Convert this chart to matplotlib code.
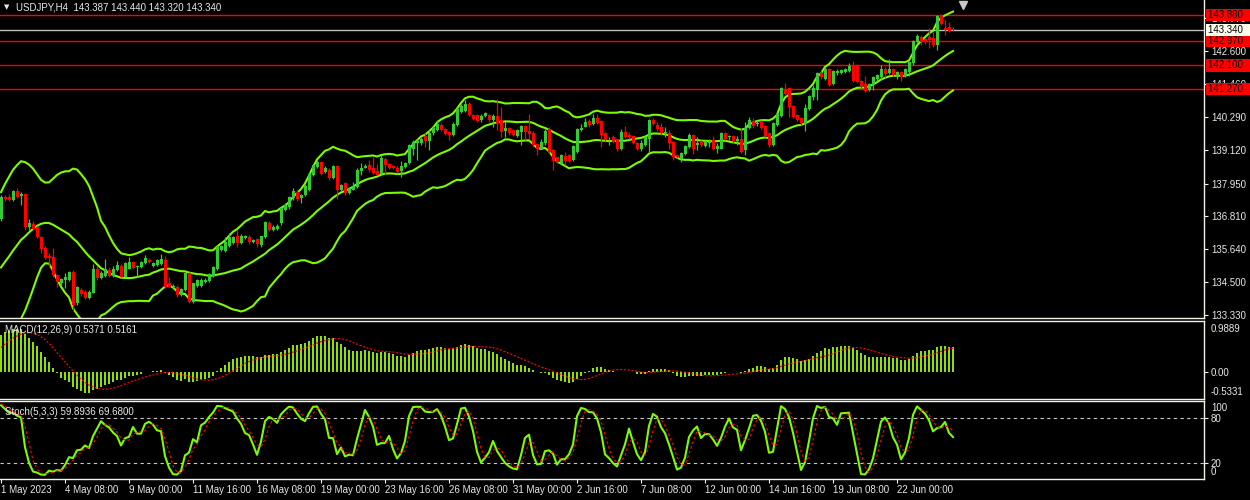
import numpy as np
import pandas as pd
import matplotlib
matplotlib.use('Agg')
import matplotlib.pyplot as plt
from matplotlib.transforms import blended_transform_factory

plt.rcParams['font.family'] = ['Liberation Sans', 'DejaVu Sans']

# USDJPY H4 bars (bar 0 = 1 May 16:00)
opens = [
    136.70, 137.49, 137.49, 137.37, 137.70, 137.52, 137.58, 136.41, 136.52, 136.41,
    136.08, 135.70, 135.42, 135.38, 134.74, 134.47, 134.56, 134.56, 134.85, 133.74,
    134.21, 134.15, 133.92, 134.12, 134.95, 134.62, 134.70, 134.91, 134.71, 134.91,
    135.05, 134.68, 134.96, 135.18, 135.01, 135.01, 135.15, 135.26, 135.05, 135.09,
    135.12, 135.26, 134.44, 134.33, 134.33, 134.03, 134.21, 134.82, 133.80, 134.35,
    134.36, 134.50, 134.54, 134.70, 134.95, 135.61, 135.59, 135.75, 135.85, 136.11,
    135.87, 136.04, 136.08, 135.91, 135.99, 135.79, 136.08, 136.57, 136.32, 136.37,
    136.55, 137.02, 137.11, 137.43, 137.66, 137.43, 137.54, 137.72, 138.25, 138.54,
    138.71, 138.36, 138.44, 138.13, 138.56, 137.74, 137.98, 137.63, 137.74, 137.84,
    138.39, 138.51, 138.60, 138.51, 138.40, 138.30, 138.83, 138.63, 138.56, 138.51,
    138.40, 138.54, 138.66, 139.18, 139.36, 139.36, 139.61, 139.45, 139.71, 139.83,
    140.02, 139.86, 139.77, 139.65, 140.02, 140.45, 140.50, 140.76, 140.37, 140.35,
    140.18, 140.32, 140.35, 140.18, 140.32, 140.18, 139.79, 139.91, 139.83, 139.61,
    139.77, 139.98, 139.80, 139.74, 139.33, 139.18, 139.36, 139.85, 139.12, 138.87,
    138.68, 138.91, 138.95, 138.77, 139.06, 139.83, 139.94, 140.15, 140.04, 140.27,
    140.15, 139.71, 139.50, 139.59, 139.50, 139.18, 139.77, 139.65, 139.61, 139.38,
    139.18, 139.30, 139.53, 140.18, 140.02, 139.94, 139.71, 139.71, 139.42, 138.95,
    138.80, 138.98, 139.24, 139.65, 139.30, 139.44, 139.26, 139.38, 139.47, 139.18,
    139.18, 139.71, 139.57, 139.61, 139.45, 139.50, 139.13, 139.89, 140.15, 140.04,
    140.12, 139.97, 139.71, 139.30, 140.00, 140.32, 141.23, 141.29, 140.67, 140.35,
    140.24, 140.06, 140.56, 141.00, 141.23, 141.84, 141.62, 141.96, 141.44, 141.84,
    141.84, 141.87, 141.90, 142.07, 142.11, 141.56, 141.44, 141.23, 141.41, 141.61,
    141.68, 141.99, 141.84, 141.96, 141.72, 141.87, 141.72, 141.87, 142.17, 142.93,
    143.10, 143.04, 143.10, 143.08, 142.81, 143.86, 143.43, 143.45, 143.387,
]
highs = [
    137.55, 137.55, 137.58, 137.74, 137.78, 137.65, 137.62, 136.69, 136.62, 136.45,
    136.10, 135.75, 135.50, 135.70, 134.78, 134.62, 134.82, 134.88, 134.90, 134.36,
    134.27, 134.20, 134.20, 135.11, 135.06, 134.88, 135.30, 135.03, 135.05, 135.23,
    135.12, 135.20, 135.36, 135.23, 135.08, 135.23, 135.45, 135.32, 135.20, 135.30,
    135.46, 135.40, 134.68, 134.42, 134.38, 134.27, 134.85, 134.85, 134.47, 134.60,
    134.62, 134.62, 134.80, 135.05, 135.78, 135.80, 136.08, 136.22, 136.12, 136.32,
    136.16, 136.15, 136.14, 136.00, 136.02, 136.12, 136.65, 136.62, 136.50, 136.52,
    137.12, 137.25, 137.52, 137.80, 137.72, 137.60, 137.92, 138.36, 138.65, 138.78,
    138.75, 138.55, 138.50, 138.60, 138.60, 137.95, 138.02, 137.82, 138.02, 138.48,
    138.66, 138.62, 138.77, 138.89, 138.65, 138.95, 138.87, 138.68, 138.60, 138.55,
    138.74, 138.72, 139.35, 139.47, 139.53, 139.58, 139.71, 139.82, 139.96, 140.20,
    140.08, 139.90, 139.80, 140.10, 140.60, 140.73, 140.88, 140.80, 140.40, 140.38,
    140.38, 140.48, 140.40, 140.41, 140.91, 140.64, 140.12, 139.95, 139.86, 139.86,
    140.00, 140.02, 140.39, 139.78, 139.36, 139.53, 139.85, 139.94, 139.15, 138.90,
    138.98, 139.06, 138.98, 139.30, 139.90, 140.06, 140.27, 140.23, 140.41, 140.41,
    140.18, 139.77, 139.57, 139.65, 139.53, 139.88, 139.97, 139.77, 139.65, 139.41,
    139.47, 139.61, 140.22, 140.26, 140.12, 140.08, 139.94, 139.83, 139.45, 138.98,
    139.06, 139.31, 139.71, 139.68, 139.59, 139.47, 139.47, 139.53, 139.61, 139.36,
    139.77, 139.77, 139.65, 139.65, 139.61, 139.89, 140.12, 140.30, 140.24, 140.18,
    140.18, 140.00, 139.77, 140.12, 140.43, 141.33, 141.47, 141.32, 140.72, 140.39,
    140.28, 140.76, 141.06, 141.41, 141.88, 141.90, 142.03, 142.00, 141.95, 141.99,
    141.97, 142.00, 142.20, 142.25, 142.15, 141.60, 141.72, 141.48, 141.72, 141.80,
    142.11, 142.05, 142.34, 142.00, 141.91, 141.91, 142.00, 142.27, 142.99, 143.22,
    143.16, 143.08, 143.43, 143.28, 143.87, 143.90, 143.69, 143.63, 143.440,
]
lows = [
    136.65, 137.35, 137.33, 137.35, 137.45, 137.19, 136.32, 136.32, 136.30, 136.02,
    135.50, 135.30, 135.03, 134.68, 134.33, 134.40, 134.27, 134.52, 133.48, 133.68,
    134.00, 133.88, 133.88, 134.10, 134.56, 134.58, 134.68, 134.66, 134.68, 134.88,
    134.66, 134.65, 134.93, 134.95, 134.68, 134.98, 135.12, 135.15, 135.00, 135.05,
    135.08, 134.28, 134.30, 134.28, 133.98, 134.00, 134.18, 133.74, 133.76, 134.30,
    134.32, 134.45, 134.50, 134.66, 134.92, 135.58, 135.55, 135.72, 135.82, 135.71,
    135.84, 136.00, 135.84, 135.85, 135.73, 135.73, 136.05, 136.28, 136.28, 136.30,
    136.50, 136.98, 137.05, 137.38, 137.35, 137.28, 137.50, 137.68, 138.20, 138.50,
    138.25, 138.32, 138.08, 138.10, 137.39, 137.70, 137.55, 137.58, 137.72, 137.80,
    138.25, 138.48, 138.36, 138.30, 138.25, 138.28, 138.30, 138.45, 138.45, 138.32,
    138.19, 138.50, 138.62, 138.95, 138.77, 139.32, 139.24, 139.12, 139.66, 139.80,
    139.78, 139.65, 139.47, 139.62, 139.98, 140.42, 140.46, 140.33, 140.18, 140.10,
    140.13, 140.28, 140.10, 139.94, 139.83, 139.59, 139.59, 139.66, 139.62, 139.58,
    139.30, 139.47, 139.53, 139.24, 138.95, 139.15, 139.32, 139.03, 138.42, 138.68,
    138.65, 138.60, 138.72, 138.74, 139.03, 139.80, 139.92, 139.94, 140.00, 140.06,
    139.24, 139.42, 139.30, 139.36, 139.09, 139.12, 139.56, 139.53, 139.33, 139.12,
    139.09, 139.27, 139.06, 140.00, 139.80, 139.65, 139.59, 139.18, 138.77, 138.84,
    138.71, 138.95, 139.20, 138.98, 139.12, 139.24, 139.22, 139.24, 139.12, 139.03,
    139.15, 139.47, 139.47, 139.36, 139.30, 139.01, 138.95, 139.85, 139.89, 139.97,
    139.85, 139.59, 139.24, 139.26, 139.97, 140.28, 141.06, 140.30, 140.26, 140.15,
    140.00, 139.80, 140.52, 140.88, 140.88, 141.62, 141.58, 141.37, 141.40, 141.76,
    141.80, 141.83, 141.86, 141.52, 141.48, 141.32, 141.17, 141.19, 141.23, 141.57,
    141.64, 141.70, 141.80, 141.72, 141.64, 141.56, 141.68, 141.72, 142.11, 142.89,
    142.81, 142.87, 142.73, 142.75, 142.66, 143.51, 143.16, 143.28, 143.320,
]
closes = [
    137.49, 137.39, 137.37, 137.70, 137.49, 137.57, 136.41, 136.57, 136.34, 136.06,
    135.66, 135.32, 135.35, 134.74, 134.50, 134.58, 134.65, 134.83, 133.68, 134.30,
    134.07, 133.92, 134.15, 134.95, 134.62, 134.82, 134.94, 134.70, 134.94, 135.09,
    134.68, 135.15, 135.19, 134.97, 135.05, 135.19, 135.32, 135.19, 135.17, 135.26,
    135.29, 134.33, 134.33, 134.36, 134.03, 134.23, 134.82, 133.80, 134.44, 134.56,
    134.56, 134.56, 134.77, 135.00, 135.73, 135.75, 135.88, 136.06, 136.08, 135.87,
    136.12, 136.11, 135.88, 135.96, 135.82, 136.10, 136.61, 136.32, 136.43, 136.47,
    137.08, 137.19, 137.46, 137.70, 137.40, 137.54, 137.86, 138.30, 138.60, 138.71,
    138.30, 138.48, 138.13, 138.56, 137.74, 137.89, 137.63, 137.78, 137.86, 138.44,
    138.51, 138.56, 138.42, 138.33, 138.25, 138.85, 138.60, 138.48, 138.48, 138.36,
    138.56, 138.68, 139.30, 139.42, 139.44, 139.53, 139.45, 139.74, 139.91, 140.06,
    139.83, 139.69, 139.65, 140.06, 140.56, 140.68, 140.73, 140.37, 140.21, 140.15,
    140.33, 140.43, 140.18, 140.33, 140.08, 139.77, 139.91, 139.71, 139.65, 139.83,
    139.97, 139.77, 139.68, 139.30, 139.18, 139.42, 139.80, 139.06, 138.74, 138.71,
    138.95, 138.75, 138.75, 139.26, 139.86, 139.91, 140.12, 140.02, 140.26, 140.09,
    139.65, 139.47, 139.53, 139.42, 139.15, 139.77, 139.59, 139.59, 139.36, 139.18,
    139.38, 139.57, 140.18, 140.06, 139.85, 139.71, 139.77, 139.38, 138.89, 138.87,
    139.03, 139.28, 139.65, 139.18, 139.36, 139.30, 139.44, 139.45, 139.18, 139.26,
    139.71, 139.53, 139.61, 139.45, 139.50, 139.07, 139.89, 140.20, 139.97, 140.08,
    139.89, 139.62, 139.30, 140.08, 140.39, 141.29, 141.11, 140.65, 140.30, 140.20,
    140.08, 140.59, 141.02, 141.29, 141.84, 141.68, 141.99, 141.41, 141.91, 141.91,
    141.93, 141.96, 142.07, 141.56, 141.52, 141.37, 141.21, 141.44, 141.68, 141.76,
    141.99, 141.79, 141.96, 141.76, 141.87, 141.70, 141.96, 142.23, 142.95, 143.13,
    142.93, 142.93, 143.01, 142.81, 143.83, 143.55, 143.36, 143.31, 143.340,
]
# closes before the first visible bar (21 Apr - 1 May 12:00), only used to warm up the indicators
lead_closes = [
    134.20, 134.05, 133.90, 134.10, 134.15, 134.10,
    134.15, 134.30, 134.40, 134.35, 134.25, 134.20,
    134.10, 133.90, 133.70, 133.40, 133.60, 133.70,
    133.75, 133.65, 133.50, 133.40, 133.65, 133.60,
    133.70, 133.80, 133.95, 133.75, 133.85, 133.95,
    134.20, 134.70, 135.40, 135.95, 136.20, 136.30,
    136.35, 136.45, 136.60, 136.70,
]

tick_bars = [0, 16, 32, 48, 64, 80, 96, 112, 128, 144, 160, 176, 192, 208, 224]
tick_labels = ['1 May 2023', '4 May 08:00', '9 May 00:00', '11 May 16:00', '16 May 08:00',
               '19 May 00:00', '23 May 16:00', '26 May 08:00', '31 May 00:00', '2 Jun 16:00',
               '7 Jun 08:00', '12 Jun 00:00', '14 Jun 16:00', '19 Jun 08:00', '22 Jun 00:00']
price_ticks = [133.330, 134.500, 135.640, 136.810, 137.950, 139.120, 140.290, 141.460, 142.600, 143.770]
levels = [143.880, 142.970, 142.100, 141.270]
bid = 143.340
macd_max, macd_min = 0.9889, -0.5331
stoch_levels = [80, 20]

# indicators (MT4 style)
n_lead = len(lead_closes)
c_all = pd.Series(lead_closes + closes)
h_all = pd.Series(lead_closes + highs)
l_all = pd.Series(lead_closes + lows)

mid = c_all.rolling(20).mean()
sd = c_all.rolling(20).std(ddof=0)
bb_up = (mid + 2 * sd).values[n_lead:]
bb_dn = (mid - 2 * sd).values[n_lead:]
bb_mid = mid.values[n_lead:]

macd = (c_all.ewm(span=12, adjust=False).mean() - c_all.ewm(span=26, adjust=False).mean())
macd_sig = macd.rolling(9).mean().values[n_lead:]
macd = macd.values[n_lead:]

ll = l_all.rolling(5).min()
hh = h_all.rolling(5).max()
st_k = 100 * (c_all - ll).rolling(3).sum() / (hh - ll).rolling(3).sum()
st_d = st_k.rolling(3).mean().values[n_lead:]
st_k = st_k.values[n_lead:]

o = np.array(opens); h = np.array(highs); l = np.array(lows); c = np.array(closes)
x = np.arange(len(c))
bull = c >= o

BG = 'black'
FG = '#f2f2e6'
TXT = '#e8e8e8'
BAND = '#7cfc00'
UP = '#32cd32'
DN = '#ff0000'

W, H = 1250, 500
fig = plt.figure(figsize=(12.5, 5), dpi=100, facecolor=BG)


def px_axes(x0, y0, x1, y1):
    a = fig.add_axes([x0 / W, 1 - y1 / H, (x1 - x0) / W, (y1 - y0) / H])
    a.set_facecolor(BG)
    a.set_xlim(-0.25, 300.75)
    a.spines['left'].set_visible(False)
    for s in ['right', 'top', 'bottom']:
        a.spines[s].set_color(FG)
        a.spines[s].set_linewidth(1.0)
    a.yaxis.tick_right()
    a.tick_params(axis='y', colors=FG, labelcolor=TXT, labelsize=7, length=3, width=0.8, pad=2)
    a.tick_params(axis='x', colors=FG, labelcolor=TXT, labelsize=7, length=3, width=0.8, pad=1)
    return a


def side_label(a, value, text, dy):
    # right-hand scale label of an indicator window, kept inside the window like MT4 does
    a.annotate(text, xy=(1.0, value), xycoords=blended_transform_factory(a.transAxes, a.transData),
               xytext=(5, dy), textcoords='offset points', ha='left', va='center',
               fontsize=7, color=TXT, annotation_clip=False)


ax = px_axes(0, 0, 1204, 318)
ax_m = px_axes(0, 321, 1204, 399)
ax_s = px_axes(0, 401, 1204, 479)
ax.spines['top'].set_visible(False)

# ---- main price panel
ax.set_ylim(133.225, 144.40)
ax.set_yticks(price_ticks)
ax.set_yticklabels([f'{v:.3f}' for v in price_ticks])
ax.set_xticks([])

ax.plot(x, bb_up, color=BAND, lw=1.5, zorder=2)
ax.plot(x, bb_mid, color=BAND, lw=1.5, zorder=2)
ax.plot(x, bb_dn, color=BAND, lw=1.5, zorder=2)

cols = np.where(bull, UP, DN)
ax.vlines(x, l, h, colors=cols, lw=0.9, zorder=3)
body = np.maximum(np.abs(c - o), 0.012)
ax.bar(x, body, bottom=np.minimum(o, c), width=0.75, color=cols, linewidth=0, zorder=3)

for lv in levels:
    ax.axhline(lv, color='#ff0000', lw=1.0, zorder=1)
ax.axhline(bid, color='#c0c0c0', lw=1.0, zorder=1)

tr = blended_transform_factory(ax.transAxes, ax.transData)
for lv in levels:
    ax.text(1.003, lv, f'{lv:.3f}   ', transform=tr, ha='left', va='center', fontsize=7,
            color='black', bbox=dict(boxstyle='square,pad=0.12', fc='#ff0000', ec='none'), zorder=5)
ax.text(1.003, bid, f'{bid:.3f}   ', transform=tr, ha='left', va='center', fontsize=7,
        color='black', bbox=dict(boxstyle='square,pad=0.12', fc='#fbfbec', ec='none'), zorder=5)

# chart shift marker
ax.plot([len(c) + 1.5], [0.985], marker='v', color='#c8c8c8', markersize=6,
        transform=blended_transform_factory(ax.transData, ax.transAxes), clip_on=False, zorder=6)

fig.text(4 / W, 1 - 7 / H, '\u25BC', color=TXT, fontsize=5, va='center', ha='left',
         family='DejaVu Sans')
fig.text(16 / W, 1 - 7 / H,
         f'USDJPY,H4  {opens[-1]:.3f} {highs[-1]:.3f} {lows[-1]:.3f} {closes[-1]:.3f}',
         color=TXT, fontsize=7, va='center', ha='left')

# ---- MACD panel
ax_m.set_ylim(-0.581, 1.097)
ax_m.bar(x, macd, width=0.5, color='#8ee000', linewidth=0, zorder=2)
ax_m.plot(x, macd_sig, color='#ff0000', lw=0.9, ls=(0, (1.5, 1.5)), zorder=3)
ax_m.set_yticks([0.0])
ax_m.set_yticklabels(['0.00'])
side_label(ax_m, macd_max, f'{macd_max:.4f}', -2)
side_label(ax_m, macd_min, f'{macd_min:.4f}', 3.5)
ax_m.set_xticks([])
ax_m.text(0.004, 0.88, 'MACD(12,26,9) 0.5371 0.5161', transform=ax_m.transAxes,
          color=TXT, fontsize=7, va='center', ha='left', zorder=5)

# ---- Stochastic panel
ax_s.set_ylim(-1.3, 102.7)
for lv in stoch_levels:
    ax_s.axhline(lv, color='#c8c8c8', lw=0.8, ls=(0, (3, 3)), zorder=1)
ax_s.plot(x, st_k, color=BAND, lw=1.5, zorder=3)
ax_s.plot(x, st_d, color='#ff0000', lw=0.8, ls=(0, (2.5, 2)), zorder=4)
ax_s.set_yticks(stoch_levels)
ax_s.set_yticklabels([str(v) for v in stoch_levels])
side_label(ax_s, 100, '100', -3.5)
side_label(ax_s, 0, '0', 4.5)
ax_s.set_xticks(tick_bars)
ax_s.set_xticklabels(tick_labels, ha='left')
ax_s.text(0.004, 0.86, 'Stoch(5,3,3) 59.8936 69.6800', transform=ax_s.transAxes,
          color=TXT, fontsize=7, va='center', ha='left', zorder=5)

fig.savefig('out.png', dpi=100, facecolor=BG)
